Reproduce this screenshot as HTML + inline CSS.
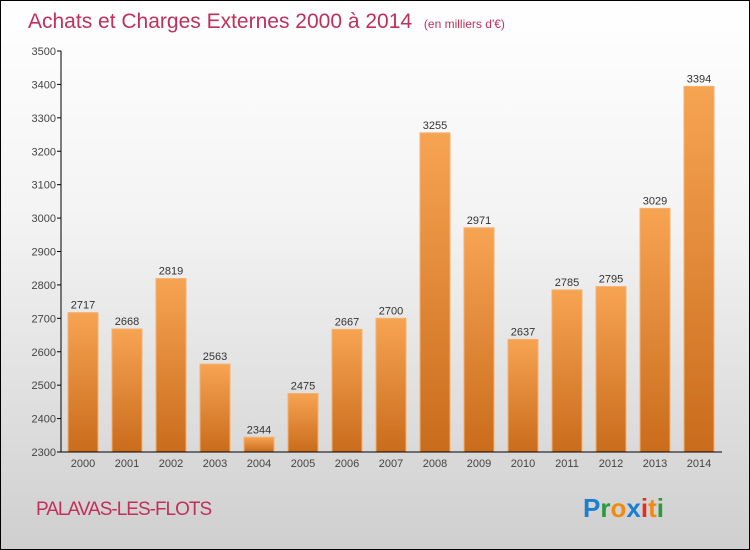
<!DOCTYPE html>
<html><head><meta charset="utf-8"><style>
body{margin:0}
#wrap{position:relative;width:748px;height:548px;border:1px solid #000;background:linear-gradient(#ffffff 0%,#f3f3f3 40%,#cfcfcf 100%);font-family:"Liberation Sans",sans-serif;overflow:hidden}
</style></head><body>
<div id="wrap">
<svg width="748" height="548" style="position:absolute;left:0;top:0" id="svg">
<defs><linearGradient id="bg" x1="0" y1="0" x2="0" y2="1"><stop offset="0" stop-color="#f7a452"/><stop offset="1" stop-color="#c96c1c"/></linearGradient></defs>
<text x="27" y="27" font-size="21" fill="#c0305a">Achats et Charges Externes 2000 à 2014 <tspan font-size="12" dx="6">(en milliers d'€)</tspan></text>
<text x="35" y="514" font-size="19" fill="#c0305a" letter-spacing="-1">PALAVAS-LES-FLOTS</text>
<g font-size="26" font-weight="bold" font-family="Liberation Sans, sans-serif">
<text x="582" y="516"><tspan fill="#1a7fd0">P</tspan><tspan fill="#2a9a3a">r</tspan><tspan fill="#f08a10">o</tspan><tspan fill="#1a7fd0">x</tspan><tspan fill="#e03020">i</tspan><tspan fill="#f08a10">t</tspan><tspan fill="#2a9a3a">i</tspan></text></g>
<g id="plot"></g>
</svg>
</div>
<script>
const categories=["2000","2001","2002","2003","2004","2005","2006","2007","2008","2009","2010","2011","2012","2013","2014"];
const values=[2717,2668,2819,2563,2344,2475,2667,2700,3255,2971,2637,2785,2795,3029,3394];
const yTicks=[2300,2400,2500,2600,2700,2800,2900,3000,3100,3200,3300,3400,3500];
const ns="http://www.w3.org/2000/svg";
const g=document.getElementById('plot');
const y=v=>451-(v-2300)*(401/1200);
const x=i=>67+i*44;
function mk(t,a){const e=document.createElementNS(ns,t);for(const k in a)e.setAttribute(k,a[k]);g.appendChild(e);return e;}
yTicks.forEach(v=>{
 mk('line',{x1:56,x2:60,y1:y(v),y2:y(v),stroke:'#000'});
 const t=mk('text',{x:55,y:y(v)+4,'font-size':11,fill:'#444','text-anchor':'end'});t.textContent=v;
 
 
});
values.forEach((v,i)=>{
 const r=mk('rect',{x:x(i),y:y(v),width:30,height:451-y(v),fill:'url(#bg)',stroke:'#f5b070','stroke-width':1});
 
 
 const t=mk('text',{x:x(i)+15,y:y(v)-4,'font-size':11,fill:'#333','text-anchor':'middle'});t.textContent=v;
 
 
 const c=mk('text',{x:x(i)+15,y:466,'font-size':11,fill:'#444','text-anchor':'middle'});c.textContent=categories[i];
 
 
});
const ya=mk('line',{x1:60,x2:60,y1:50,y2:451,stroke:'#000'});


const xa=mk('line',{x1:60,x2:721,y1:451,y2:451,stroke:'#000'});


</script>
</body></html>
